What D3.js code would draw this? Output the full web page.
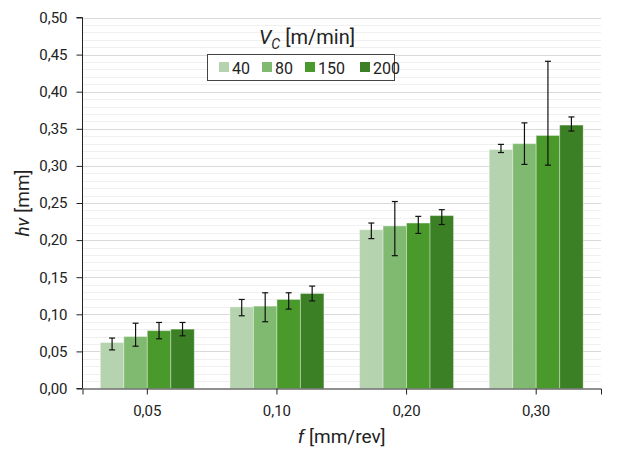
<!DOCTYPE html>
<html><head><meta charset="utf-8">
<script src="https://cdn.jsdelivr.net/npm/d3@7"></script>
<style>body{margin:0;background:#fff}svg{display:block}text{font-family:Roboto,"Liberation Sans",sans-serif;fill:#222}</style>
</head><body><svg id="c" width="628" height="450"></svg>
<script>
const categories = ["0,05","0,10","0,20","0,30"];
const seriesNames = ["40","80","150","200"];
const colors = ["#b5d3af","#80b970","#4a9a2b","#3b8024"];
const v40  = [0.062,0.110,0.214,0.322];
const v80  = [0.070,0.111,0.219,0.330];
const v150 = [0.078,0.120,0.223,0.341];
const v200 = [0.080,0.128,0.233,0.355];
const lo40 = [0.052,0.098,0.202,0.318];
const hi40 = [0.068,0.120,0.223,0.329];
const lo80 = [0.057,0.090,0.179,0.302];
const hi80 = [0.088,0.129,0.252,0.358];
const lo150 = [0.067,0.107,0.209,0.301];
const hi150 = [0.089,0.129,0.232,0.441];
const lo200 = [0.071,0.118,0.221,0.347];
const hi200 = [0.089,0.138,0.241,0.366];
const yTicks = [0,0.05,0.10,0.15,0.20,0.25,0.30,0.35,0.40,0.45,0.50];

const values = [v40,v80,v150,v200];
const lows = [lo40,lo80,lo150,lo200];
const highs = [hi40,hi80,hi150,hi200];

const svg = d3.select("#c");
const L = 82.5, R = 601, T = 17.5, B = 388.5;
const x = d3.scaleBand().domain(categories).range([L,R]).paddingInner(0).paddingOuter(0);
const x1 = d3.scaleBand().domain(seriesNames).range([0,x.bandwidth()]).paddingInner(0).paddingOuter(0.76);
const y = d3.scaleLinear().domain([0,0.5]).range([B,T]);
const fmt = v => d3.format(".2f")(v).replace(".",",");

// minor gridlines
const minor = d3.range(0,51).map(i=>i/100).filter(v=>Math.round(v*100)%5!==0);
svg.append("g").selectAll("line").data(minor).join("line")
  .attr("x1",L).attr("x2",R).attr("y1",d=>Math.round(y(d))+0.5).attr("y2",d=>Math.round(y(d))+0.5)
  .attr("stroke","#f0f0f0").attr("stroke-width",1);
svg.append("g").selectAll("line").data(yTicks.slice(1)).join("line")
  .attr("x1",L).attr("x2",R).attr("y1",d=>Math.round(y(d))+0.5).attr("y2",d=>Math.round(y(d))+0.5)
  .attr("stroke","#d9d9d9").attr("stroke-width",1);

// bars
seriesNames.forEach((s,si)=>{
  const g = svg.append("g");
  g.selectAll("rect").data(categories).join("rect")
    .attr("x",(c)=>x(c)+x1(s)).attr("width",x1.bandwidth())
    .attr("y",(c,i)=>y(values[si][i])).attr("height",(c,i)=>B-y(values[si][i]))
    .attr("fill",colors[si]).attr("stroke","rgba(255,255,255,0.35)").attr("stroke-width",1);
});
// error bars
seriesNames.forEach((s,si)=>{
  const g = svg.append("g").attr("stroke","#111").attr("stroke-width",1.2);
  categories.forEach((c,i)=>{
    const cx = x(c)+x1(s)+x1.bandwidth()/2;
    g.append("line").attr("x1",cx).attr("x2",cx).attr("y1",y(highs[si][i])).attr("y2",y(lows[si][i]));
    [highs[si][i],lows[si][i]].forEach(v=>g.append("line").attr("x1",cx-3).attr("x2",cx+3).attr("y1",y(v)).attr("y2",y(v)));
  });
});

// axes
const ya = d3.axisLeft(y).tickValues(yTicks).tickFormat(fmt).tickSize(6).tickPadding(9);
const yg = svg.append("g").attr("transform",`translate(${L},0)`).call(ya);
yg.select(".domain").attr("stroke","#222").attr("d",`M-6,${T}H0V${B}H-6`);
yg.selectAll(".tick line").attr("stroke","#222");
yg.selectAll("text").style("font-size","15px").attr("fill","#222");

const xa = d3.axisBottom(x).tickSize(6).tickPadding(11).tickSizeOuter(6);
const xg = svg.append("g").attr("transform",`translate(0,${B})`).call(xa);
xg.select(".domain").attr("stroke","#222");
xg.selectAll(".tick line").attr("stroke","#222");
xg.selectAll("text").style("font-size","15px").attr("fill","#222");

// axis titles
const yt = svg.append("text").attr("transform",`translate(29,${(T+B)/2}) rotate(-90)`)
  .attr("text-anchor","middle").style("font-size","19px");
yt.append("tspan").attr("font-style","italic").text("hv");
yt.append("tspan").text(" [mm]");
const xt = svg.append("text").attr("x",(L+R)/2).attr("y",443).attr("text-anchor","middle").style("font-size","19px");
xt.append("tspan").attr("font-style","italic").text("f");
xt.append("tspan").text(" [mm/rev]");

// legend
const lt = svg.append("text").attr("x",307).attr("y",44).attr("text-anchor","middle").style("font-size","20px");
lt.append("tspan").attr("font-style","italic").text("V");
lt.append("tspan").attr("font-style","italic").attr("dy",5).style("font-size","14px").text("C");
lt.append("tspan").attr("dy",-5).text(" [m/min]");
svg.append("rect").attr("x",207.5).attr("y",54.5).attr("width",187).attr("height",26)
  .attr("fill","#fff").attr("stroke","#444").attr("stroke-width",1);
const lx = [219,262,305,360];
seriesNames.forEach((s,i)=>{
  svg.append("rect").attr("x",lx[i]).attr("y",62).attr("width",10).attr("height",10).attr("fill",colors[i]);
  svg.append("text").attr("x",lx[i]+13).attr("y",73.5).style("font-size","16px").text(s);
});
</script></body></html>
